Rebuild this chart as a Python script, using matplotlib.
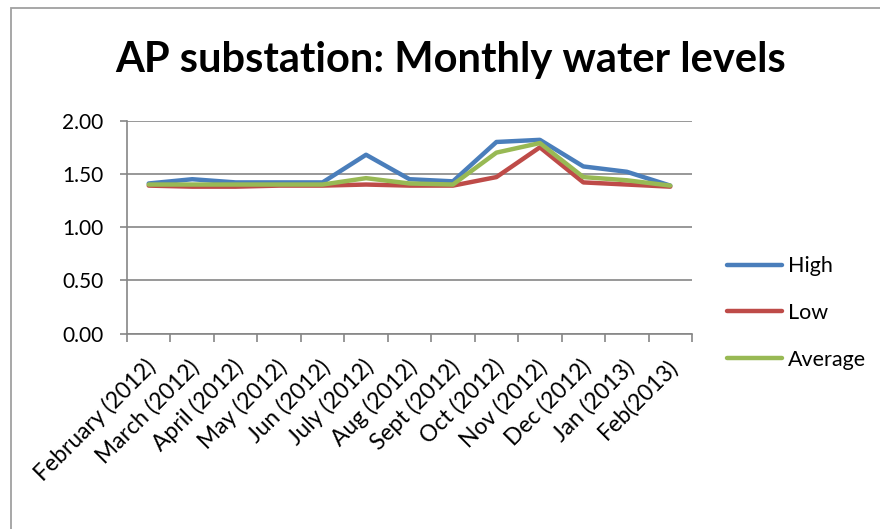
import matplotlib
matplotlib.use("Agg")
import matplotlib.pyplot as plt
from matplotlib.patches import Rectangle

months = ["February (2012)", "March (2012)", "April (2012)", "May (2012)", "Jun (2012)",
          "July (2012)", "Aug (2012)", "Sept (2012)", "Oct (2012)", "Nov (2012)",
          "Dec (2012)", "Jan (2013)", "Feb(2013)"]
high = [1.41, 1.45, 1.42, 1.42, 1.42, 1.68, 1.45, 1.43, 1.80, 1.82, 1.57, 1.52, 1.39]
low = [1.39, 1.38, 1.38, 1.39, 1.39, 1.40, 1.39, 1.39, 1.47, 1.75, 1.42, 1.40, 1.38]
average = [1.40, 1.40, 1.40, 1.40, 1.40, 1.46, 1.41, 1.40, 1.70, 1.79, 1.47, 1.44, 1.39]
yticks = [0.0, 0.5, 1.0, 1.5, 2.0]

plt.rcParams['font.family'] = ['Lato', 'DejaVu Sans']

W, H = 880, 529
fig = plt.figure(figsize=(W / 100, H / 100), dpi=100)
ax = fig.add_axes([127 / W, 1 - 333.5 / H, (692 - 127) / W, (333.5 - 120.7) / H])

gray = '#868686'
x = list(range(len(months)))
ax.plot(x, high, color='#4a7ebb', lw=3.2, label='High', solid_capstyle='round', zorder=3)
ax.plot(x, low, color='#be4b48', lw=3.2, label='Low', solid_capstyle='round', zorder=3)
ax.plot(x, average, color='#98b954', lw=3.2, label='Average', solid_capstyle='round', zorder=3)

ax.set_xlim(-0.5, len(months) - 0.5)
ax.set_ylim(0, 2.0)
ax.set_yticks(yticks)
ax.set_yticklabels([f"{v:.2f}" for v in yticks])
ax.yaxis.grid(True, color=gray, lw=1.2)
ax.set_axisbelow(True)

ax.set_xticks([i - 0.5 for i in range(len(months) + 1)])
ax.set_xticklabels([])
ax.tick_params(axis='x', length=6, width=1.2, color=gray, direction='out')
ax.tick_params(axis='y', length=5, width=1.2, color=gray, direction='out', labelsize=15, pad=12)
for sp in ['top', 'right']:
    ax.spines[sp].set_visible(False)
ax.spines['left'].set_color(gray)
ax.spines['bottom'].set_color(gray)
ax.spines['left'].set_linewidth(1.2)
ax.spines['bottom'].set_linewidth(1.2)

for i, m in enumerate(months):
    ax.annotate(m, xy=(i, 0), xycoords='data', xytext=(4, -30), textcoords='offset pixels',
                rotation=45, ha='right', va='center', rotation_mode='anchor', fontsize=16.5)

fig.text(451 / W, 1 - 60 / H, "AP substation: Monthly water levels", ha='center', va='center',
         fontsize=30, fontweight='bold')

fig.legend(loc='center left', bbox_to_anchor=(727 / W, 1 - 313 / H), frameon=False,
           fontsize=15.5, handlelength=2.55, handletextpad=0.3, labelspacing=1.25,
           borderpad=0, borderaxespad=0)

fig.patches.append(Rectangle((11 / W, -0.1), 1.2, 1.1 - 8 / H, transform=fig.transFigure,
                             fill=False, edgecolor='#a0a0a0', lw=1.3))

fig.savefig('out.png', dpi=100)
